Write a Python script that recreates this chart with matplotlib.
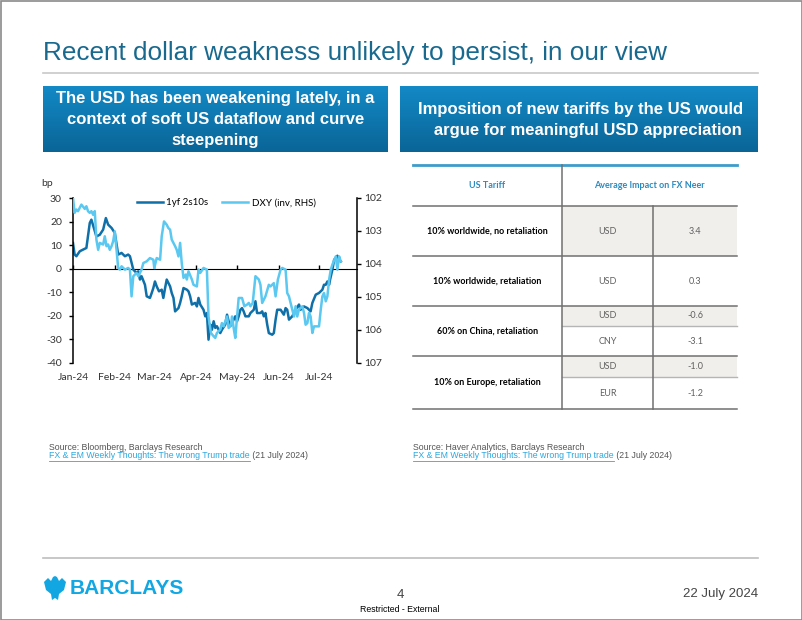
import numpy as np
import pandas as pd
import matplotlib
matplotlib.use('Agg')
import matplotlib.pyplot as plt
import matplotlib.dates as mdates
from matplotlib.ticker import NullFormatter
from matplotlib.patches import Rectangle, Polygon
from matplotlib.colors import LinearSegmentedColormap

plt.rcParams['axes.unicode_minus'] = False

# ---- dados do gráfico (dias desde 1-jan-2024) ----
curve_days = [0, 1.2, 2.5, 5.0, 7.4, 9.9, 12.4, 13.6, 17.3, 19.8,
              22.3, 24.3, 26.0, 28.5, 30.9, 31.7, 33.4, 35.9, 38.4, 40.8,
              42.1, 44.6, 47.0, 48.3, 49.5, 50.7, 53.2, 54.5, 56.9, 58.2,
              59.4, 60.6, 61.9, 63.6, 65.6, 66.8, 68.1, 69.3, 71.8, 73.0,
              74.3, 75.5, 78.0, 79.2, 80.4, 81.7, 84.2, 85.4, 86.6, 87.9,
              90.3, 91.6, 92.8, 94.1, 96.5, 97.8, 99.0, 100.2, 101.5, 102.7,
              104.0, 105.2, 106.4, 108.9, 110.1, 112.6, 113.9, 115.1, 116.3, 118.8,
              120.0, 121.3, 122.5, 123.8, 125.0, 126.2, 127.5, 130.0, 131.2, 133.7,
              134.9, 136.1, 138.6, 139.9, 141.1, 142.3, 143.6, 144.8, 147.3, 148.5,
              149.8, 151.0, 153.5, 155.9, 157.2, 158.4, 159.7, 162.1, 163.4, 164.6,
              167.1, 168.3, 170.8, 173.3, 175.7, 177.0, 179.5, 181.9, 184.4, 185.6,
              186.9, 188.1, 189.4, 190.1, 191.8, 193.1, 195.5, 196.8, 198.0]
curve_bp = [10.9, 6.0, 5.3, 7.4, 8.1, 8.8, 19.4, 20.8, 13.7, 14.4,
            16.6, 21.5, 18.7, 17.3, 15.2, 12.3, 6.0, 6.7, 5.3, 6.0,
            5.3, -0.4, -1.8, -1.1, -4.6, -3.2, -6.8, -11.7, -12.4, -10.3,
            -8.2, -5.4, -7.5, -9.6, -8.9, -12.4, -8.2, -4.6, -7.5, -10.3,
            -12.4, -18.1, -16.7, -14.5, -11.7, -8.2, -8.9, -9.6, -11.7, -15.2,
            -14.5, -16.0, -12.4, -15.2, -17.4, -20.2, -18.8, -30.1, -23.7, -25.9,
            -22.3, -25.1, -24.4, -27.3, -25.9, -23.7, -19.5, -22.3, -24.4, -21.6,
            -20.2, -22.3, -20.2, -17.4, -16.7, -18.1, -20.2, -20.2, -18.8, -17.4,
            -13.8, -18.8, -18.8, -18.1, -20.2, -18.8, -23.7, -27.3, -28.0, -27.3,
            -21.6, -17.4, -17.4, -19.5, -16.7, -17.4, -21.6, -20.2, -18.8, -17.4,
            -15.2, -17.4, -16.0, -16.7, -18.1, -14.5, -11.0, -10.3, -8.9, -6.8,
            -6.8, -5.4, -6.8, -4.6, -0.4, 3.8, 5.5, 3.8, 3.1]

dxy_days = [0, 1.2, 2.5, 3.7, 6.2, 8.7, 9.9, 11.1, 12.4, 13.6,
            14.9, 16.1, 17.3, 18.6, 19.8, 22.3, 23.5, 24.8, 26.0, 27.2,
            28.5, 29.7, 30.9, 32.2, 33.4, 34.7, 35.9, 38.4, 40.8, 42.1,
            43.3, 44.6, 47.0, 48.3, 50.7, 52.0, 54.5, 56.9, 59.4, 60.1,
            61.9, 64.4, 65.6, 67.3, 69.3, 70.5, 71.8, 73.0, 75.5, 76.7,
            78.0, 79.2, 80.4, 81.7, 83.4, 84.2, 85.4, 87.9, 89.1, 91.6,
            92.8, 94.1, 96.5, 99.0, 100.2, 102.0, 104.0, 105.2, 106.4, 108.9,
            110.1, 111.4, 112.6, 113.9, 115.1, 116.8, 117.6, 118.8, 120.0, 122.5,
            125.0, 126.7, 128.7, 130.0, 131.2, 132.9, 134.9, 137.4, 138.6, 139.9,
            142.3, 144.8, 146.0, 148.5, 149.8, 151.5, 153.5, 154.7, 157.2, 158.4,
            159.7, 160.9, 163.4, 164.6, 165.8, 167.1, 169.6, 170.8, 172.0, 173.3,
            174.5, 175.7, 177.0, 178.2, 181.9, 183.2, 184.4, 185.6, 186.9, 188.1,
            189.4, 190.6, 191.8, 194.3, 195.5, 196.8, 198.0]
dxy_level = [102.00, 102.45, 102.35, 102.40, 102.20, 102.33, 102.25, 102.40, 102.45, 102.40,
             102.51, 102.40, 103.26, 103.57, 103.36, 103.41, 103.16, 103.46, 103.41, 103.57,
             103.46, 103.31, 103.01, 103.57, 104.12, 104.17, 104.07, 104.17, 104.12, 104.17,
             104.98, 104.37, 104.27, 104.37, 104.17, 103.97, 103.92, 103.82, 103.87, 104.12,
             103.82, 103.87, 103.16, 102.71, 102.81, 102.91, 102.96, 103.26, 103.46, 103.57,
             103.77, 103.36, 103.97, 104.42, 104.32, 104.47, 104.22, 104.47, 104.63, 104.68,
             104.17, 104.27, 104.12, 104.17, 105.59, 106.09, 106.19, 106.24, 106.09, 105.99,
             105.79, 105.89, 105.74, 105.59, 105.94, 105.84, 105.59, 105.94, 106.24, 105.03,
             105.03, 105.28, 105.23, 105.18, 105.28, 105.18, 104.37, 104.47, 104.63, 105.18,
             104.98, 104.63, 104.68, 104.58, 104.98, 104.47, 104.17, 104.12, 104.17, 104.88,
             104.98, 105.18, 105.59, 105.28, 105.59, 105.38, 105.28, 105.48, 105.84, 105.79,
             105.48, 105.59, 106.09, 105.89, 105.89, 105.38, 104.98, 104.88, 105.13, 104.98,
             104.47, 104.17, 104.02, 103.77, 104.17, 103.77, 103.92]

bp_ticks = [30, 20, 10, 0, -10, -20, -30, -40]
dxy_ticks = [102, 103, 104, 105, 106, 107]
month_starts = ['2024-01-01', '2024-02-01', '2024-03-01', '2024-04-01',
                '2024-05-01', '2024-06-01', '2024-07-01']

# ---- dados da tabela ----
tariff_scenarios = ['10% worldwide, no retaliation', '10% worldwide, retaliation',
                    '60% on China, retaliation', '10% on Europe, retaliation']
impact_ccy = [['USD'], ['USD'], ['USD', 'CNY'], ['USD', 'EUR']]
impact_vals = [[3.4], [0.3], [-0.6, -3.1], [-1.0, -1.2]]

DARK = '#0f6fa8'
LIGHT = '#5ac8f0'
TITLE_BLUE = '#19698f'
NARROW = ['Liberation Sans Narrow', 'Liberation Sans']

start = pd.Timestamp('2024-01-01')
curve_dates = start + pd.to_timedelta(curve_days, unit='D')
dxy_dates = start + pd.to_timedelta(dxy_days, unit='D')

W, H = 802, 620
fig = plt.figure(figsize=(W / 100, H / 100), dpi=100)

# camada de fundo em pixels
bg = fig.add_axes([0, 0, 1, 1])
bg.set_xlim(0, W)
bg.set_ylim(H, 0)
bg.axis('off')

bg.add_patch(Rectangle((0.5, 0.5), W - 1, H - 1, fill=False, ec='#8a8a8a', lw=1.2))
bg.text(43, 53, 'Recent dollar weakness unlikely to persist, in our view',
        fontsize=18.8, color=TITLE_BLUE, family='Liberation Sans', va='center', ha='left')
bg.plot([43, 758], [73, 73], color='#c8c8c8', lw=1.2)

# caixas azuis com gradiente
grad = LinearSegmentedColormap.from_list('bx', ['#1389c6', '#0a6597'])
g = np.linspace(0, 1, 64).reshape(-1, 1)
for x0, x1 in [(43, 388), (400, 758)]:
    bg.imshow(g, cmap=grad, extent=(x0, x1, 152, 86), aspect='auto', zorder=1)
bg.set_xlim(0, W)
bg.set_ylim(H, 0)
bg.text(215.5, 120, 'The USD has been weakening lately, in a\ncontext of soft US dataflow and curve\nsteepening',
        color='white', fontsize=12, fontweight='bold', family=NARROW,
        ha='center', va='center', linespacing=1.5, zorder=2)
bg.text(581, 120, 'Imposition of new tariffs by the US would\n   argue for meaningful USD appreciation',
        color='white', fontsize=12, fontweight='bold', family=NARROW,
        ha='center', va='center', linespacing=1.5, zorder=2)

# ---- tabela ----
tx0, tx1, tc1, tc2 = 413, 737, 562, 653
row_edges = [206, 256, 306, 356, 409]
sub_edges = [None, None, 326, 377]
shade = '#f1efec'
line_c = '#707070'

bg.plot([tx0, tx1], [165, 165], color='#3d9ccb', lw=2)
bg.text((tx0 + tc1) / 2, 185, 'US Tariff', color='#2a8bc0', fontsize=6.5,
        fontweight='bold', family='Lato', ha='center', va='center')
bg.text((tc1 + tx1) / 2, 185, 'Average Impact on FX Neer', color='#2a8bc0', fontsize=6.5,
        fontweight='bold', family='Lato', ha='center', va='center')

for i, label in enumerate(tariff_scenarios):
    top, bot = row_edges[i], row_edges[i + 1]
    if sub_edges[i] is None:
        parts = [(top, bot)]
    else:
        parts = [(top, sub_edges[i]), (sub_edges[i], bot)]
    for j, (a, b) in enumerate(parts):
        if j == 0 and (i == 0 or len(parts) > 1):
            bg.add_patch(Rectangle((tc1, a), tx1 - tc1, b - a, color=shade, lw=0, zorder=1))
        if j == 1:
            bg.plot([tc1, tx1], [a, a], color='#b5b5b5', lw=1, zorder=2)
        bg.text((tc1 + tc2) / 2, (a + b) / 2, impact_ccy[i][j], color='#606060',
                fontsize=6.5, family='Lato', ha='center', va='center', zorder=3)
        bg.text((tc2 + tx1) / 2, (a + b) / 2, '%.1f' % impact_vals[i][j], color='#606060',
                fontsize=6.5, family='Lato', ha='center', va='center', zorder=3)
    bg.text((tx0 + tc1) / 2, (top + bot) / 2, label, color='black', fontsize=6.5,
            fontweight='bold', family='Lato', ha='center', va='center', zorder=3)

for y in row_edges:
    bg.plot([tx0, tx1], [y, y], color=line_c, lw=1.1, zorder=2)
bg.plot([tc1, tc1], [165, 409], color=line_c, lw=1.1, zorder=2)
bg.plot([tc2, tc2], [206, 409], color=line_c, lw=1.1, zorder=2)

# ---- fontes e links ----
def source_block(x, src):
    bg.text(x, 447, src, fontsize=6.3, color='#555555', family=NARROW, va='center', ha='left')
    t = bg.text(x, 456, 'FX & EM Weekly Thoughts: The wrong Trump trade', fontsize=6.3,
                color='#2aa7df', family=NARROW, va='center', ha='left')
    bg.annotate(' (21 July 2024)', xy=(1, 0.5), xycoords=t, va='center', ha='left',
                fontsize=6.3, color='#555555', family=NARROW)
    return t

links = [source_block(49, 'Source: Bloomberg, Barclays Research'),
         source_block(413, 'Source: Haver Analytics, Barclays Research')]

# ---- rodapé ----
bg.plot([43, 758], [558, 558], color='#bdbdbd', lw=1.2)
eagle = [(44, 582), (48, 578), (51, 581), (53, 577), (55, 576), (57, 577), (59, 581),
         (62, 578), (66, 582), (64, 590), (59, 594), (58, 600), (55, 598), (52, 600),
         (51, 594), (46, 590)]
bg.add_patch(Polygon(eagle, closed=True, color='#12a7e3', lw=0))
bg.text(70, 588, 'BARCLAYS', color='#12a7e3', fontsize=15, fontweight='bold',
        family=NARROW, ha='left', va='center')
bg.text(400, 595, '4', color='#444444', fontsize=9.5, family='Liberation Sans', ha='center', va='center')
bg.text(400, 609, 'Restricted - External', color='black', fontsize=6.3, family=NARROW,
        ha='center', va='center')
bg.text(758, 594, '22 July 2024', color='#444444', fontsize=9.5, family='Liberation Sans',
        ha='right', va='center')

# ---- gráfico de linhas ----
ax = fig.add_axes([73 / W, 1 - 363 / H, (357 - 73) / W, (363 - 198) / H])
ax.patch.set_alpha(0)
ax2 = ax.twinx()

l1, = ax.plot(curve_dates, curve_bp, color=DARK, lw=1.8, label='1yf 2s10s')
l2, = ax2.plot(dxy_dates, dxy_level, color=LIGHT, lw=1.8, label='DXY (inv, RHS)')

ax.set_xlim(pd.Timestamp('2024-01-01'), pd.Timestamp('2024-07-29'))
ax.set_ylim(-40, 30)
ax.set_yticks(bp_ticks)
ax2.set_ylim(107, 102)
ax2.set_yticks(dxy_ticks)

ticks = pd.to_datetime(month_starts)
ax.set_xticks(ticks)
ax.xaxis.set_major_formatter(mdates.DateFormatter('%b-%y'))

for a in (ax, ax2):
    for s in ['top', 'bottom']:
        a.spines[s].set_visible(False)
ax.spines['right'].set_visible(False)
ax2.spines['left'].set_visible(False)
ax.spines['left'].set_linewidth(1.1)
ax2.spines['right'].set_linewidth(1.1)
ax.tick_params(axis='x', length=0, pad=7, labelsize=7.5, labelcolor='#333333')
ax.tick_params(axis='y', length=3, width=1, pad=5, labelsize=7.5, labelcolor='#333333')
ax2.tick_params(axis='y', length=3, width=1, pad=2, labelsize=7.5, labelcolor='#333333')
for lab in ax.get_xticklabels() + ax.get_yticklabels() + ax2.get_yticklabels():
    lab.set_family('Lato')

# eixo horizontal no zero
zero = ax.secondary_xaxis(40 / 70)
zero.set_xticks(mdates.date2num(ticks))
zero.xaxis.set_major_formatter(NullFormatter())
zero.tick_params(length=3, width=1)
zero.spines['bottom'].set_linewidth(1.1)

ax.text(-0.09, 1.09, 'bp', transform=ax.transAxes, fontsize=7.5, family='Lato',
        color='#333333', ha='center', va='center')

ax2.legend(handles=[l1, l2], loc='center', bbox_to_anchor=(0.54, 0.97), ncol=2,
           frameon=False, handlelength=2.7, columnspacing=1.4,
           handletextpad=0.35, prop={'family': 'Lato', 'size': 7})

# sublinhado dos links
fig.canvas.draw()
r = fig.canvas.get_renderer()
for t in links:
    bb = t.get_window_extent(r)
    bg.plot([bb.x0, bb.x1], [H - bb.y0, H - bb.y0], color='#2aa7df', lw=0.6)

fig.savefig('out.png', dpi=100)
